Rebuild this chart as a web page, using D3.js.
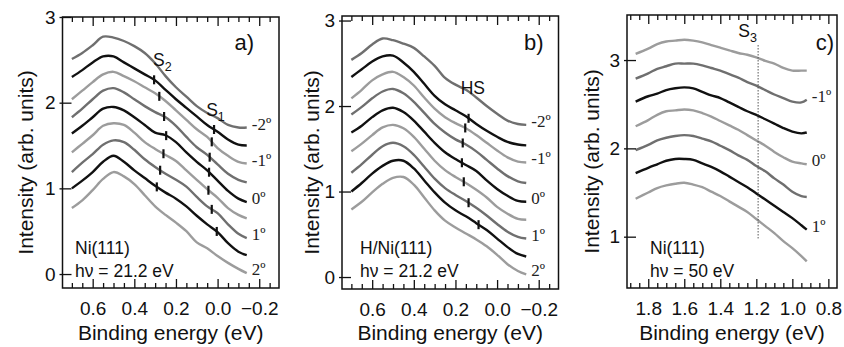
<!DOCTYPE html>
<html><head><meta charset="utf-8">
<script src="https://cdn.jsdelivr.net/npm/d3@7"></script>
<style>body{margin:0;background:#fff}svg{display:block}</style>
</head><body><svg id="chart" width="844" height="347"></svg>
<script>
// ---------- DATA ----------
const energyAB = [0.70,0.65,0.60,0.55,0.50,0.45,0.40,0.35,0.30,0.25,0.20,0.15,0.10,0.05,0.00,-0.05,-0.10,-0.14];
const curvesA = [
  [2.51,2.58,2.67,2.77,2.76,2.72,2.66,2.58,2.46,2.31,2.18,2.07,1.96,1.88,1.82,1.74,1.71,1.71],
  [2.30,2.38,2.47,2.54,2.54,2.47,2.40,2.33,2.26,2.15,2.04,1.94,1.84,1.74,1.66,1.57,1.51,1.50],
  [2.04,2.14,2.24,2.33,2.36,2.31,2.25,2.18,2.11,2.02,1.91,1.80,1.69,1.60,1.47,1.38,1.31,1.29],
  [1.83,1.93,2.04,2.14,2.17,2.12,2.04,1.96,1.89,1.83,1.73,1.60,1.48,1.39,1.28,1.17,1.10,1.07],
  [1.64,1.73,1.83,1.93,1.95,1.91,1.83,1.74,1.65,1.62,1.54,1.42,1.31,1.21,1.09,0.97,0.88,0.84],
  [1.42,1.52,1.62,1.73,1.76,1.74,1.65,1.54,1.46,1.39,1.32,1.21,1.10,0.99,0.89,0.77,0.69,0.65],
  [1.19,1.30,1.40,1.51,1.56,1.54,1.45,1.34,1.25,1.17,1.10,1.02,0.90,0.79,0.71,0.58,0.47,0.42],
  [1.00,1.09,1.19,1.31,1.38,1.31,1.21,1.12,1.03,0.95,0.88,0.79,0.68,0.58,0.49,0.36,0.26,0.22],
  [0.77,0.86,0.98,1.11,1.19,1.14,1.05,0.92,0.79,0.69,0.60,0.50,0.37,0.30,0.21,0.13,0.06,0.01]
];
const curvesB = [
  [2.54,2.62,2.72,2.79,2.77,2.73,2.68,2.58,2.47,2.33,2.25,2.19,2.10,2.00,1.91,1.83,1.79,1.78],
  [2.34,2.43,2.52,2.58,2.59,2.51,2.40,2.26,2.12,2.02,1.95,1.88,1.79,1.71,1.64,1.58,1.55,1.54],
  [2.09,2.19,2.30,2.37,2.40,2.34,2.24,2.10,1.97,1.87,1.80,1.74,1.66,1.57,1.48,1.40,1.35,1.34],
  [1.90,1.99,2.09,2.17,2.20,2.15,2.05,1.92,1.79,1.69,1.61,1.55,1.47,1.37,1.27,1.18,1.12,1.10],
  [1.69,1.77,1.87,1.95,1.98,1.93,1.83,1.70,1.57,1.46,1.38,1.31,1.24,1.13,1.03,0.95,0.89,0.88],
  [1.47,1.56,1.66,1.75,1.78,1.74,1.64,1.50,1.36,1.25,1.17,1.10,1.02,0.93,0.82,0.74,0.68,0.67],
  [1.22,1.32,1.43,1.53,1.57,1.53,1.43,1.29,1.15,1.04,0.96,0.89,0.81,0.72,0.62,0.53,0.47,0.45],
  [1.00,1.10,1.21,1.30,1.36,1.36,1.27,1.13,0.99,0.87,0.78,0.71,0.63,0.55,0.45,0.35,0.27,0.24],
  [0.79,0.88,0.99,1.09,1.16,1.17,1.08,0.93,0.78,0.66,0.58,0.51,0.44,0.36,0.26,0.15,0.07,0.03]
];
const energyC = [1.87,1.80,1.75,1.70,1.65,1.60,1.55,1.50,1.45,1.40,1.35,1.30,1.25,1.20,1.15,1.10,1.05,1.00,0.95,0.92];
const curvesC = [
  [3.07,3.13,3.18,3.21,3.22,3.23,3.22,3.20,3.17,3.14,3.11,3.08,3.06,3.03,2.99,2.96,2.91,2.88,2.88,2.88],
  [2.79,2.85,2.90,2.93,2.96,2.96,2.96,2.94,2.91,2.88,2.84,2.80,2.75,2.71,2.66,2.61,2.57,2.53,2.52,2.55],
  [2.53,2.59,2.62,2.66,2.68,2.69,2.68,2.64,2.60,2.57,2.52,2.47,2.42,2.38,2.33,2.28,2.23,2.19,2.17,2.18],
  [2.25,2.32,2.38,2.42,2.43,2.44,2.43,2.40,2.36,2.31,2.26,2.21,2.15,2.09,2.03,1.96,1.90,1.85,1.83,1.82],
  [1.98,2.04,2.09,2.12,2.14,2.15,2.14,2.11,2.08,2.03,1.98,1.92,1.87,1.80,1.74,1.66,1.59,1.51,1.46,1.45],
  [1.72,1.78,1.82,1.86,1.88,1.88,1.87,1.83,1.79,1.74,1.68,1.62,1.56,1.49,1.42,1.35,1.28,1.21,1.13,1.08],
  [1.43,1.50,1.55,1.58,1.60,1.61,1.59,1.56,1.51,1.46,1.40,1.34,1.28,1.20,1.12,1.04,0.95,0.87,0.78,0.72]
];
const colorsAB = ["#6f6f6f","#111111","#9c9c9c","#6f6f6f","#111111","#9c9c9c","#6f6f6f","#111111","#9c9c9c"];
const colorsC  = ["#9c9c9c","#6f6f6f","#111111","#9c9c9c","#6f6f6f","#111111","#9c9c9c"];
const angleLabelsAB = ["-2º","","-1º","","0º","","1º","","2º"];
const angleLabelsC  = ["","-1º","","0º","","1º",""];
// marker energies (curve index -> energy)
const s2Curve = [1,2,3,4,5,6,7];
const s2Energy = [0.305,0.280,0.257,0.247,0.260,0.276,0.292];
const s1Curve = [1,2,3,4,5,6,7];
const s1Energy = [0.017,0.028,0.038,0.041,0.044,0.028,0.004];
const hsCurve = [1,2,3,4,5,6,7];
const hsEnergy = [0.137,0.153,0.165,0.169,0.160,0.137,0.089];
const s3Energy = 1.19, s3Range = [0.98, 3.17];
const xTicksAB = [0.6,0.4,0.2,0.0,-0.2];
const xTicksC = [1.8,1.6,1.4,1.2,1.0,0.8];
const yTicksAB = [0,1,2,3];
const yTicksC = [1,2,3];

// ---------- LAYOUT ----------
const svg = d3.select("#chart");
const FONT = "'Liberation Sans', Arial, Helvetica, sans-serif";
const SERIF = "'Liberation Serif', 'Times New Roman', serif";

const panels = [
  {id:"a", left:62.5, right:279, top:17, bottom:288, xDom:[0.745,-0.295], yDom:[-0.163,3.0],
   energy:energyAB, curves:curvesA, colors:colorsAB, labels:angleLabelsAB, xt:xTicksAB, yt:yTicksAB,
   minor:d3.range(-0.25,0.7001,0.05), titleX:33, annX:12.5, tagDx:25,
   text1:"Ni(111)", text2:"hν = 21.2 eV", tag:"a)"},
  {id:"b", left:342, right:558.5, top:16, bottom:289, xDom:[0.745,-0.295], yDom:[-0.14,3.053],
   energy:energyAB, curves:curvesB, colors:colorsAB, labels:angleLabelsAB, xt:xTicksAB, yt:yTicksAB,
   minor:d3.range(-0.25,0.7001,0.05), titleX:319, annX:18, tagDx:15,
   text1:"H/Ni(111)", text2:"hν = 21.2 eV", tag:"b)"},
  {id:"c", left:627, right:837, top:15, bottom:288, xDom:[1.918,0.752], yDom:[0.419,3.51],
   energy:energyC, curves:curvesC, colors:colorsC, labels:angleLabelsC, xt:xTicksC, yt:yTicksC,
   minor:d3.range(0.80,1.9001,0.05), titleX:599, annX:23, tagDx:3,
   text1:"Ni(111)", text2:"hν = 50 eV", tag:"c)"}
];

panels.forEach(p => {
  const x = d3.scaleLinear().domain(p.xDom).range([p.left, p.right]);
  const y = d3.scaleLinear().domain(p.yDom).range([p.bottom, p.top]);
  p.x = x; p.y = y;
  const g = svg.append("g");

  // curves
  const line = d3.line().x((d,i)=>x(p.energy[i])).y(d=>y(d)).curve(d3.curveCatmullRom.alpha(0.5));
  p.curves.forEach((c,k) => {
    g.append("path").attr("d", line(c)).attr("fill","none")
      .attr("stroke", p.colors[k]).attr("stroke-width", 2.4).attr("stroke-linejoin","round");
  });

  // angle labels
  p.curves.forEach((c,k) => {
    if (!p.labels[k]) return;
    g.append("text").attr("x", x(p.energy[p.energy.length-1]) + 5)
      .attr("y", y(c[c.length-1]) + 2)
      .attr("font-family", SERIF).attr("font-size", 17).attr("fill","#222")
      .text(p.labels[k]);
  });

  // frame
  g.append("rect").attr("x",p.left).attr("y",p.top).attr("width",p.right-p.left).attr("height",p.bottom-p.top)
    .attr("fill","none").attr("stroke","#111").attr("stroke-width",1.5);

  // axes
  const minorT = p.minor.map(v=>+v.toFixed(2)).filter(v => !p.xt.some(t=>Math.abs(t-v)<1e-6));
  const bMinor = g.append("g").attr("transform",`translate(0,${p.bottom})`)
    .call(d3.axisBottom(x).tickValues(minorT).tickSize(-5).tickFormat(""));
  const bMajor = g.append("g").attr("transform",`translate(0,${p.bottom})`)
    .call(d3.axisBottom(x).tickValues(p.xt).tickSize(-9).tickPadding(13.5).tickFormat(d3.format(".1f")));
  const tMinor = g.append("g").attr("transform",`translate(0,${p.top})`)
    .call(d3.axisTop(x).tickValues(minorT).tickSize(-5).tickFormat(""));
  const tMajor = g.append("g").attr("transform",`translate(0,${p.top})`)
    .call(d3.axisTop(x).tickValues(p.xt).tickSize(-9).tickFormat(""));
  const yAx = g.append("g").attr("transform",`translate(${p.left},0)`)
    .call(d3.axisLeft(y).tickValues(p.yt).tickSize(-9).tickPadding(7).tickFormat(d3.format("d")));
  const yOut = g.append("g").attr("transform",`translate(${p.left},0)`)
    .call(d3.axisLeft(y).tickValues(p.yt).tickSize(3).tickFormat(""));
  [bMinor,bMajor,tMinor,tMajor,yAx,yOut].forEach(a => {
    a.select(".domain").remove();
    a.selectAll(".tick line").attr("stroke","#111").attr("stroke-width",1.3);
    a.selectAll("text").attr("font-family",FONT).attr("font-size",19).attr("fill","#111");
  });

  // axis titles
  g.append("text").attr("x",(p.left+p.right)/2).attr("y",339.5).attr("text-anchor","middle")
    .attr("font-family",FONT).attr("font-size",21).attr("fill","#111").text("Binding energy (eV)");
  g.append("text").attr("transform",`translate(${p.titleX},${(p.top+p.bottom)/2+10}) rotate(-90)`)
    .attr("text-anchor","middle").attr("font-family",FONT).attr("font-size",21).attr("fill","#111")
    .text("Intensity (arb. units)");

  // annotations
  g.append("text").attr("x",p.left+p.annX).attr("y",254).attr("font-family",FONT).attr("font-size",17.5)
    .attr("fill","#111").text(p.text1);
  g.append("text").attr("x",p.left+p.annX).attr("y",277).attr("font-family",FONT).attr("font-size",17.5)
    .attr("fill","#111").text(p.text2);
  g.append("text").attr("x",p.right-p.tagDx).attr("y",50).attr("text-anchor","end").attr("font-family",FONT)
    .attr("font-size",22).attr("fill","#111").text(p.tag);
});

// helper: value of a curve at energy
function valAt(energy, curve, e) {
  for (let i=0;i<energy.length-1;i++){
    const a=energy[i], b=energy[i+1];
    if ((e<=a && e>=b) || (e>=a && e<=b)) {
      const t=(e-a)/(b-a); return curve[i]+t*(curve[i+1]-curve[i]);
    }
  }
  return curve[curve.length-1];
}
function drawMarks(p, idx, en) {
  idx.forEach((k,j) => {
    const cx = p.x(en[j]), cy = p.y(valAt(p.energy, p.curves[k], en[j]));
    svg.append("line").attr("x1",cx).attr("x2",cx).attr("y1",cy-4.5).attr("y2",cy+4.5)
      .attr("stroke","#111").attr("stroke-width",2.2);
  });
}
drawMarks(panels[0], s2Curve, s2Energy);
drawMarks(panels[0], s1Curve, s1Energy);
drawMarks(panels[1], hsCurve, hsEnergy);

// feature labels
function subLabel(x0, y0, main, sub) {
  const t = svg.append("text").attr("x",x0).attr("y",y0).attr("font-family",FONT).attr("font-size",17.5).attr("fill","#111");
  t.append("tspan").text(main);
  if (sub) t.append("tspan").attr("dy",5).attr("font-size",12.5).text(sub);
}
subLabel(panels[0].x(0.31), 66, "S", "2");
subLabel(panels[0].x(0.055), 116, "S", "1");
subLabel(panels[1].x(0.175), 94, "HS", "");
subLabel(panels[2].x(1.30), 37, "S", "3");

// S3 dotted line
const pc = panels[2];
svg.append("line").attr("x1",pc.x(s3Energy)).attr("x2",pc.x(s3Energy))
  .attr("y1",pc.y(s3Range[1])).attr("y2",pc.y(s3Range[0]))
  .attr("stroke","#555").attr("stroke-width",1).attr("stroke-dasharray","1.5,1.5");
</script></body></html>
